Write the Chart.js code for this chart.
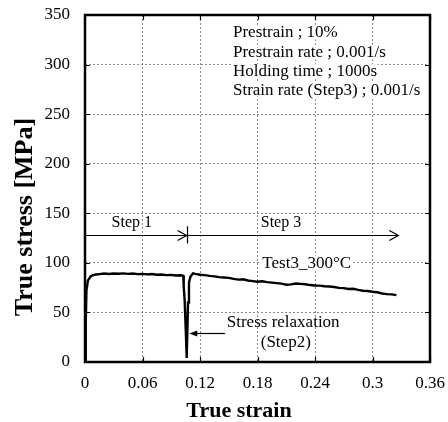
<!DOCTYPE html>
<html>
<head>
<meta charset="utf-8">
<script src="https://cdn.jsdelivr.net/npm/chart.js@4.4.1/dist/chart.umd.min.js"></script>
<style>
  html, body { margin: 0; padding: 0; background: #fff; }
  #wrap { width: 448px; height: 422px; }
</style>
</head>
<body>
<div id="wrap"><canvas id="c" width="448" height="422"></canvas></div>
<script>
// True strain / true stress record of Test3 at 300°C
const strain = [
  0, 0.0008, 0.0015, 0.003, 0.006, 0.01, 0.015, 0.02, 0.025, 0.03,
  0.035, 0.04, 0.045, 0.05, 0.055, 0.06, 0.065, 0.07, 0.075, 0.08,
  0.085, 0.09, 0.095, 0.1, 0.1026, 0.103, 0.104, 0.1054, 0.1061, 0.1068,
  0.1075, 0.1085, 0.11, 0.1127, 0.115, 0.12, 0.125, 0.13, 0.135, 0.14,
  0.145, 0.15, 0.155, 0.16, 0.165, 0.17, 0.175, 0.18, 0.185, 0.19,
  0.195, 0.2, 0.205, 0.21, 0.215, 0.22, 0.225, 0.23, 0.235, 0.24,
  0.245, 0.25, 0.255, 0.26, 0.265, 0.27, 0.275, 0.28, 0.285, 0.29,
  0.295, 0.3, 0.305, 0.31, 0.315, 0.32, 0.325
];
const stress = [
  0, 40, 72, 82, 86.5, 88, 88.6, 89.2, 88.7, 89.3,
  89.0, 89.4, 88.9, 89.2, 88.6, 88.9, 88.4, 88.7, 88.0, 88.3,
  87.6, 87.9, 87.3, 87.5, 87.0, 76, 62, 25, 4, 30,
  60, 80, 86, 89.5, 88.9, 88.0, 87.6, 86.9, 86.4, 85.6,
  85.2, 84.9, 83.8, 83.1, 83.4, 82.2, 81.6, 81.0, 81.4, 80.6,
  80.1, 79.5, 79.0, 77.9, 78.3, 79.1, 78.8, 78.4, 77.6, 77.2,
  77.0, 76.4, 76.2, 75.7, 74.8, 74.5, 73.6, 73.9, 72.8, 71.9,
  71.6, 70.8, 70.3, 69.1, 68.5, 68.2, 67.4
];

// Axis tick labels
const xTickLabels = ['0', '0.06', '0.12', '0.18', '0.24', '0.3', '0.36'];
const yTickLabels = ['0', '50', '100', '150', '200', '250', '300', '350'];

// Test conditions
const conditionLines = [
  'Prestrain ; 10%',
  'Prestrain rate ; 0.001/s',
  'Holding time ; 1000s',
  'Strain rate (Step3) ; 0.001/s'
];

const SERIF = "'Liberation Serif', 'Times New Roman', serif";

const points = strain.map((s, i) => ({ x: s, y: stress[i] }));

// Inward tick marks, heavy plot frame and axis titles
const framePlugin = {
  id: 'frame',
  afterDraw(chart) {
    const { ctx, chartArea: a, scales: { x, y } } = chart;
    ctx.save();
    ctx.strokeStyle = '#000';
    ctx.lineWidth = 1.2;
    const t = 5;
    ctx.beginPath();
    x.ticks.forEach(tk => {
      const px = Math.round(x.getPixelForValue(tk.value)) + 0.5;
      ctx.moveTo(px, a.bottom); ctx.lineTo(px, a.bottom - t);
      ctx.moveTo(px, a.top); ctx.lineTo(px, a.top + t);
    });
    y.ticks.forEach(tk => {
      const py = Math.round(y.getPixelForValue(tk.value)) + 0.5;
      ctx.moveTo(a.left, py); ctx.lineTo(a.left + t, py);
      ctx.moveTo(a.right, py); ctx.lineTo(a.right - t, py);
    });
    ctx.stroke();
    ctx.lineWidth = 2.5;
    ctx.strokeRect(a.left, a.top, a.right - a.left, a.bottom - a.top);

    ctx.fillStyle = '#000';
    ctx.font = "bold 22px " + SERIF;
    ctx.textAlign = 'center';
    ctx.textBaseline = 'alphabetic';
    ctx.fillText('True strain', 239, 417);
    ctx.translate(32, 217);
    ctx.rotate(-Math.PI / 2);
    ctx.font = "bold 26px " + SERIF;
    ctx.fillText('True stress [MPa]', 0, 0);
    ctx.restore();
  }
};

// Step arrows and text notes placed in data coordinates
const notesPlugin = {
  id: 'notes',
  afterDatasetsDraw(chart) {
    const { ctx, scales: { x, y } } = chart;
    const X = v => x.getPixelForValue(v);
    const Y = v => y.getPixelForValue(v);
    ctx.save();
    ctx.strokeStyle = '#000';
    ctx.fillStyle = '#000';
    ctx.lineWidth = 1.2;

    // Step 1 / Step 3 arrows
    const ay = Math.round(Y(128.2)) + 0.5;
    const xs = X(0.106), xe = X(0.327);
    ctx.beginPath();
    ctx.moveTo(X(0), ay); ctx.lineTo(xe, ay);
    ctx.moveTo(Math.round(xs) + 0.5, Y(137)); ctx.lineTo(Math.round(xs) + 0.5, Y(119.5));
    ctx.moveTo(xs - 9, ay - 5); ctx.lineTo(xs, ay); ctx.lineTo(xs - 9, ay + 5);
    ctx.moveTo(xe - 9, ay - 5); ctx.lineTo(xe, ay); ctx.lineTo(xe - 9, ay + 5);
    ctx.stroke();

    ctx.font = "16px " + SERIF;
    ctx.textAlign = 'center';
    ctx.textBaseline = 'middle';
    ctx.fillText('Step 1', X(0.0488), Y(140));
    ctx.fillText('Step 3', X(0.2045), Y(140));

    // relaxation pointer
    const ry = Math.round(Y(29.3)) + 0.5;
    const rs = X(0.146), rt = X(0.1088);
    ctx.beginPath();
    ctx.moveTo(rs, ry); ctx.lineTo(rt + 6, ry);
    ctx.stroke();
    ctx.beginPath();
    ctx.moveTo(rt, ry); ctx.lineTo(rt + 8, ry - 3); ctx.lineTo(rt + 8, ry + 3);
    ctx.closePath(); ctx.fill();

    ctx.font = "17px " + SERIF;
    ctx.fillText('Stress relaxation', X(0.2068), Y(39.9));
    ctx.fillText('(Step2)', X(0.2095), Y(19.3));

    // curve label with backing
    const lbl = 'Test3_300\u00B0C';
    const lx = X(0.2313), ly = Y(99.6);
    const lw = ctx.measureText(lbl).width;
    ctx.fillStyle = '#fff';
    ctx.fillRect(lx - lw / 2 - 2, ly - 8, lw + 4, 16);
    ctx.fillStyle = '#000';
    ctx.fillText(lbl, lx, ly);

    // test conditions block
    ctx.textAlign = 'left';
    const cx = X(0.1544);
    const rows = [332.3, 312.5, 293.4, 274.2];
    conditionLines.forEach((txt, i) => {
      const py = Y(rows[i]);
      const w = ctx.measureText(txt).width;
      ctx.fillStyle = '#fff';
      ctx.fillRect(cx - 1, py - 7, w + 2, 14);
      ctx.fillStyle = '#000';
      ctx.fillText(txt, cx, py);
    });
    ctx.restore();
  }
};

new Chart(document.getElementById('c'), {
  type: 'line',
  data: {
    datasets: [{
      data: points,
      borderColor: '#000',
      borderWidth: 2.4,
      pointRadius: 0,
      tension: 0,
      fill: false
    }]
  },
  options: {
    responsive: false,
    animation: false,
    devicePixelRatio: 1,
    layout: { padding: { left: 0, right: 18, top: 15, bottom: 0 } },
    plugins: { legend: { display: false }, tooltip: { enabled: false } },
    scales: {
      x: {
        type: 'linear',
        min: 0, max: 0.36,
        afterFit: s => { s.height = 60; s.paddingLeft = 0; s.paddingRight = 0; },
        ticks: {
          stepSize: 0.06,
          padding: 11,
          color: '#000',
          font: { family: SERIF, size: 17 },
          callback: (v, i) => xTickLabels[i]
        },
        grid: { color: '#8a8a8a', lineWidth: 1, drawTicks: false },
        border: { display: false, dash: [2, 2] }
      },
      y: {
        min: 0, max: 350,
        afterFit: s => { s.width = 85; s.paddingTop = 0; s.paddingBottom = 0; },
        ticks: {
          stepSize: 50,
          padding: 15,
          color: '#000',
          font: { family: SERIF, size: 17 },
          callback: (v, i) => yTickLabels[i]
        },
        grid: { color: '#8a8a8a', lineWidth: 1, drawTicks: false },
        border: { display: false, dash: [2, 2] }
      }
    }
  },
  plugins: [notesPlugin, framePlugin]
});
</script>
</body>
</html>
